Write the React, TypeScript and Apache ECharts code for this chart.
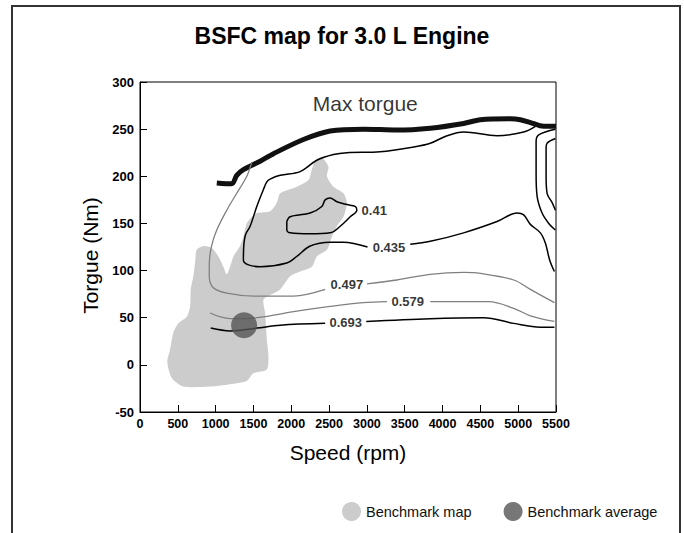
import React, { useEffect, useRef } from "react";
import * as echarts from "echarts";

const X_TICKS = [0, 500, 1000, 1500, 2000, 2500, 3000, 3500, 4000, 4500, 5000, 5500];
const Y_TICKS = [-50, 0, 50, 100, 150, 200, 250, 300];

const MAX_TORQUE = [[1015, 193], [1213, 192], [1279, 201], [1367, 207], [1588, 216], [1765, 224], [2161, 239], [2514, 248], [2955, 250], [3397, 249], [3838, 251], [4279, 256], [4500, 260], [4897, 261], [5029, 260], [5161, 257], [5337, 253], [5500, 253]];

const C041 = [[1941, 152], [1985, 157], [2250, 161], [2404, 168], [2448, 175], [2514, 177], [2603, 173], [2735, 170], [2845, 168], [2867, 164], [2779, 157], [2647, 147], [2514, 140], [2250, 139], [1985, 140], [1941, 143], [1941, 152]];

const C0435_A = [[5479, 99], [5417, 111], [5360, 129], [5294, 140], [5161, 149], [5073, 159], [4985, 161], [4721, 152], [4279, 140], [3838, 131], [3573, 128]];
const C0435_B = [[3008, 125], [2690, 130], [2514, 130], [2250, 126], [2073, 115], [1941, 108], [1588, 104], [1433, 106], [1367, 111], [1372, 126], [1395, 138], [1456, 147], [1544, 168], [1632, 186], [1677, 194], [1720, 197], [1853, 201], [2117, 205], [2338, 217], [2558, 223], [2735, 225], [3176, 226], [3617, 231], [3838, 235], [4059, 243], [4279, 247], [4721, 243], [5073, 247], [5228, 253]];

const C0497_A = [[1478, 215], [1412, 200], [1279, 182], [1147, 164], [1015, 143], [949, 127], [918, 110], [915, 95], [966, 82], [1147, 76], [1500, 73], [2029, 73], [2448, 80]];
const C0497_B = [[3000, 86], [3397, 90], [3838, 96], [4279, 98], [4500, 97], [4941, 90], [5161, 80], [5479, 66]];

const C0579_A = [[926, 55], [1059, 51], [1191, 49], [1544, 50], [2073, 57], [2514, 62], [2955, 66], [3265, 67]];
const C0579_B = [[3838, 67], [4609, 67], [4941, 60], [5161, 52], [5479, 46]];

const C0693_A = [[935, 39], [1191, 36], [1544, 39], [1853, 42], [2448, 44]];
const C0693_B = [[2991, 46], [3838, 49], [4543, 50], [4941, 44], [5294, 40], [5479, 40]];

const RIGHT_OUTER = [[5492, 250], [5271, 244], [5237, 237], [5237, 203], [5250, 179], [5316, 161], [5404, 150], [5492, 143]];
const RIGHT_INNER = [[5492, 240], [5382, 235], [5369, 230], [5369, 200], [5382, 182], [5449, 172], [5492, 164]];

const CONTOUR_LABELS = [[3097, 164, "0.41"], [3291, 125, "0.435"], [2735, 85, "0.497"], [3540, 67, "0.579"], [2720, 45, "0.693"]];
const MAX_TORQUE_LABEL = [[2978, 277, "Max torgue"]];

const BLOB = [[2405, 220], [2492, 210], [2471, 200], [2558, 189], [2690, 182], [2735, 172], [2690, 157], [2603, 147], [2537, 136], [2471, 122], [2338, 115], [2272, 104], [2117, 99], [1985, 94], [1853, 80], [1720, 74], [1632, 69], [1654, 55], [1677, 27], [1698, 9], [1677, -5], [1499, -9], [1412, -17], [1147, -21], [926, -23], [573, -23], [420, -14], [361, 3], [397, 16], [441, 34], [507, 44], [618, 51], [662, 62], [671, 80], [705, 94], [728, 108], [750, 122], [838, 126], [949, 124], [1036, 115], [1102, 104], [1147, 96], [1191, 104], [1235, 115], [1323, 126], [1367, 136], [1412, 150], [1478, 157], [1544, 161], [1720, 163], [1809, 172], [1853, 182], [2074, 189], [2227, 196], [2272, 207], [2316, 217]];

const AVERAGE = [[1376, 42]];

const FONT = "'Liberation Sans', Arial, sans-serif";
const GRAY_LINE = "#808080";

function lineSeries(data: number[][], color: string, width: number) {
  return {
    type: "line",
    data,
    showSymbol: false,
    symbol: "none",
    smooth: 0.35,
    lineStyle: { color, width },
    silent: true,
    z: 3,
  };
}

export default function App() {
  const ref = useRef<HTMLDivElement>(null);
  useEffect(() => {
    if (!ref.current) return;
    const chart = echarts.init(ref.current, undefined, { renderer: "svg" });
    const option: any = {
      animation: false,
      backgroundColor: "#ffffff",
      title: {
        text: "BSFC map for 3.0 L Engine",
        left: "center",
        top: 19,
        textStyle: { fontFamily: FONT, fontSize: 23, fontWeight: "bold", color: "#000" },
      },
      graphic: [
        {
          type: "rect",
          shape: { x: 12, y: 6, width: 668, height: 560 },
          style: { fill: "none", stroke: "#333", lineWidth: 2 },
          silent: true,
        },
      ],
      legend: {
        left: 337,
        top: 497,
        itemWidth: 19,
        itemHeight: 19,
        itemGap: 32,
        textStyle: { fontFamily: FONT, fontSize: 14.5, color: "#111" },
        data: [
          { name: "Benchmark map", icon: "circle", itemStyle: { color: "#cccccc" } },
          { name: "Benchmark average", icon: "circle", itemStyle: { color: "#555555" } },
        ],
        selectedMode: false,
      },
      grid: {
        left: 140,
        top: 82,
        width: 416,
        height: 330,
        show: true,
        borderColor: "#000",
        borderWidth: 1,
      },
      xAxis: {
        type: "value",
        min: X_TICKS[0],
        max: X_TICKS[X_TICKS.length - 1],
        interval: X_TICKS[1] - X_TICKS[0],
        name: "Speed (rpm)",
        nameLocation: "middle",
        nameGap: 30,
        nameTextStyle: { fontFamily: FONT, fontSize: 21, color: "#000" },
        axisLine: { show: true, onZero: false, lineStyle: { color: "#000", width: 1 } },
        axisTick: { show: true, inside: true, length: 7, lineStyle: { color: "#000" } },
        axisLabel: {
          fontFamily: FONT,
          fontSize: 12.5,
          fontWeight: "bold",
          color: "#000",
          margin: 5,
          formatter: (v: number) => String(v),
        },
        splitLine: { show: false },
      },
      yAxis: {
        type: "value",
        min: Y_TICKS[0],
        max: Y_TICKS[Y_TICKS.length - 1],
        interval: Y_TICKS[1] - Y_TICKS[0],
        name: "Torgue (Nm)",
        nameLocation: "middle",
        nameGap: 38,
        nameTextStyle: { fontFamily: FONT, fontSize: 21, color: "#000", padding: [0, 17, 0, 0] },
        axisLine: { show: true, onZero: false, lineStyle: { color: "#000", width: 1 } },
        axisTick: { show: true, inside: true, length: 7, lineStyle: { color: "#000" } },
        axisLabel: {
          fontFamily: FONT,
          fontSize: 13,
          fontWeight: "bold",
          color: "#000",
          margin: 6,
          formatter: (v: number) => String(v),
        },
        splitLine: { show: false },
      },
      series: [
        {
          type: "custom",
          name: "Benchmark map",
          data: BLOB,
          z: 1,
          silent: true,
          itemStyle: { color: "#cccccc" },
          renderItem: (params: any, api: any) => {
            if (params.dataIndex !== 0) return null;
            const pts = BLOB.map((p) => api.coord(p));
            return {
              type: "polygon",
              shape: { points: pts, smooth: 0.25 },
              style: { fill: "#cccccc" },
            };
          },
        },
        { ...lineSeries(MAX_TORQUE, "#111", 5), smooth: 0.3 },
        lineSeries(C041, "#000", 1.5),
        lineSeries(C0435_A, "#000", 1.5),
        lineSeries(C0435_B, "#000", 1.5),
        lineSeries(C0497_A, GRAY_LINE, 1.3),
        lineSeries(C0497_B, GRAY_LINE, 1.3),
        lineSeries(C0579_A, GRAY_LINE, 1.3),
        lineSeries(C0579_B, GRAY_LINE, 1.3),
        lineSeries(C0693_A, "#000", 1.5),
        lineSeries(C0693_B, "#000", 1.5),
        lineSeries(RIGHT_OUTER, "#000", 1.5),
        lineSeries(RIGHT_INNER, "#000", 1.5),
        {
          type: "scatter",
          data: CONTOUR_LABELS,
          symbolSize: 0,
          silent: true,
          z: 4,
          label: {
            show: true,
            position: "inside",
            formatter: (p: any) => p.value[2],
            fontFamily: FONT,
            fontSize: 13,
            fontWeight: "bold",
            color: "#000",
          },
        },
        {
          type: "scatter",
          data: MAX_TORQUE_LABEL,
          symbolSize: 0,
          silent: true,
          z: 4,
          label: {
            show: true,
            position: "inside",
            formatter: (p: any) => p.value[2],
            fontFamily: FONT,
            fontSize: 21,
            color: "#000",
          },
        },
        {
          type: "scatter",
          name: "Benchmark average",
          data: AVERAGE,
          symbol: "circle",
          symbolSize: 26,
          itemStyle: { color: "#555555" },
          silent: true,
          z: 5,
        },
      ],
    };
    chart.setOption(option);
    return () => chart.dispose();
  }, []);
  return (
    <div
      ref={ref}
      style={{ position: "fixed", left: 0, top: 0, width: 684, height: 533 }}
    />
  );
}
